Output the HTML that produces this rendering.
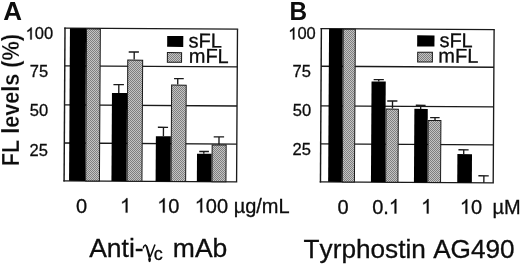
<!DOCTYPE html>
<html><head><meta charset="utf-8">
<style>
html,body{margin:0;padding:0;background:#fff;width:520px;height:265px;overflow:hidden}
svg{display:block;filter:grayscale(1)}
text{font-kerning:none;font-family:"Liberation Sans",sans-serif;fill:#0d0d0d;stroke:#0d0d0d;stroke-width:0.3px}
path.o{fill:#0d0d0d;stroke:#0d0d0d;stroke-width:0.3px;vector-effect:non-scaling-stroke}
g.ln path{fill:none}
</style></head><body>
<svg width="520" height="265" viewBox="0 0 520 265">
<defs>
<pattern id="ck" x="0" y="0" width="2" height="2" patternUnits="userSpaceOnUse" patternTransform="rotate(-0.34 150 105)">
<!--A-->
<rect width="2" height="2" fill="#c4c4c4"/>
<rect width="1" height="1" fill="#7f7f7f"/>
<rect x="1" y="1" width="1" height="1" fill="#7f7f7f"/>
</pattern>
<pattern id="ckB" x="0" y="0" width="2" height="2" patternUnits="userSpaceOnUse" patternTransform="rotate(-0.34 407 105)">
<rect width="2" height="2" fill="#c4c4c4"/>
<rect width="1" height="1" fill="#7f7f7f"/>
<rect x="1" y="1" width="1" height="1" fill="#7f7f7f"/>
</pattern>
</defs>
<!-- Panel A -->
<text x="3.15" y="20" font-size="26" font-weight="bold" style="stroke:none">A</text>
<text transform="translate(18.5,166.2) rotate(-90)" font-size="23" font-weight="bold" style="stroke:#fff;stroke-width:0.2px" textLength="132.2" lengthAdjust="spacingAndGlyphs">FL levels (%)</text>
<path class="o" transform="translate(25.60,39.40) scale(0.008057,-0.008057)" d="M763,0H583V1147Q518,1085 412,1023Q307,961 223,930V1104Q374,1175 487,1276Q600,1377 647,1472H763Z"/>
<text x="34.78" y="39.40" font-size="16.5">00</text>
<text x="29.75" y="77.10" font-size="16.5">75</text>
<text x="29.74" y="116.20" font-size="16.5">50</text>
<text x="29.57" y="155.60" font-size="16.5">25</text>
<g transform="rotate(0.34 150 105)">
<g class="ln" stroke="#1a1a1a" fill="none">
<path d="M64.55 28.00V182.03" stroke-width="1.45"/>
<path d="M63.75 28.70H237.74" stroke-width="1.2"/>
<path d="M237.04 28.70V182.03M63.75 181.33H237.74" stroke-width="1.35"/>
<path d="M64.55 66.33H237.04" stroke-width="1.3"/>
<path d="M64.55 105.47H237.04" stroke-width="1.3"/>
<path d="M64.55 143.52H237.04" stroke-width="1.3"/>
</g>
<rect x="69.50" y="28.70" width="16.10" height="152.63" fill="#000"/>
<rect x="86.10" y="29.20" width="13.80" height="152.13" fill="url(#ck)" stroke="#1a1a1a" stroke-width="1"/>
<rect x="111.90" y="93.24" width="15.10" height="88.09" fill="#000"/>
<rect x="127.50" y="60.19" width="14.90" height="121.14" fill="url(#ck)" stroke="#1a1a1a" stroke-width="1"/>
<rect x="156.05" y="136.12" width="14.95" height="45.21" fill="#000"/>
<rect x="171.50" y="84.93" width="14.60" height="96.40" fill="url(#ck)" stroke="#1a1a1a" stroke-width="1"/>
<rect x="197.30" y="153.38" width="14.60" height="27.95" fill="#000"/>
<rect x="212.40" y="144.59" width="14.00" height="36.74" fill="url(#ck)" stroke="#1a1a1a" stroke-width="1"/>
<g class="ln" stroke="#1a1a1a" stroke-width="1.35" fill="none">
<path d="M113.30 84.78H123.80M118.70 84.78V93.24"/>
<path d="M128.40 52.10H138.60M133.90 52.10V59.69"/>
<path d="M158.00 127.22H168.20M163.60 127.22V136.12"/>
<path d="M173.90 78.44H183.60M177.60 78.44V84.43"/>
<path d="M199.50 151.18H209.20M204.10 151.18V153.38"/>
<path d="M213.90 136.49H224.30M219.20 136.49V144.09"/>
</g>
<rect x="166.80" y="35.85" width="16.10" height="10.90" fill="#000"/>
<rect x="167.10" y="52.50" width="14.20" height="9.60" fill="url(#ck)" stroke="#1a1a1a" stroke-width="1"/>
<text x="188.24" y="47.20" font-size="20">sFL</text>
<text x="188.47" y="62.50" font-size="20">mFL</text>
</g>
<text x="76.12" y="212.60" font-size="20">0</text>
<path class="o" transform="translate(120.02,212.60) scale(0.009766,-0.009766)" d="M763,0H583V1147Q518,1085 412,1023Q307,961 223,930V1104Q374,1175 487,1276Q600,1377 647,1472H763Z"/>
<path class="o" transform="translate(157.22,212.60) scale(0.009766,-0.009766)" d="M763,0H583V1147Q518,1085 412,1023Q307,961 223,930V1104Q374,1175 487,1276Q600,1377 647,1472H763Z"/>
<text x="168.35" y="212.60" font-size="20">0</text>
<path class="o" transform="translate(194.72,212.60) scale(0.009766,-0.009766)" d="M763,0H583V1147Q518,1085 412,1023Q307,961 223,930V1104Q374,1175 487,1276Q600,1377 647,1472H763Z"/>
<text x="205.85" y="212.60" font-size="20">00 µg/mL</text>
<text x="89.15" y="257.20" font-size="26.5">Anti-</text>
<path d="M143.2 248.3C143.6 246.2 144.6 245 145.8 245.2" fill="none" stroke="#0d0d0d" stroke-width="1.3"/>
<path d="M145.0 244.5C146.4 244.4 147.3 245.4 147.7 246.8L150.9 257.3L148.5 257.7L146.0 247.8C145.7 246.6 145.4 246.0 144.9 245.9Z" fill="#0d0d0d"/>
<path d="M155.0 244.5L150.2 257" fill="none" stroke="#0d0d0d" stroke-width="1.5"/>
<ellipse cx="149.6" cy="259.6" rx="1.35" ry="2.6" fill="#0d0d0d"/>
<text x="153.84" y="260.20" font-size="18">c</text>
<text x="172.84" y="257.20" font-size="26.5">mAb</text>
<text transform="translate(289.5,19.8) scale(0.945,1)" font-size="25.8" font-weight="bold" style="stroke:none">B</text>
<path class="o" transform="translate(288.20,39.40) scale(0.008057,-0.008057)" d="M763,0H583V1147Q518,1085 412,1023Q307,961 223,930V1104Q374,1175 487,1276Q600,1377 647,1472H763Z"/>
<text x="297.38" y="39.40" font-size="16.5">00</text>
<text x="292.55" y="77.00" font-size="16.5">75</text>
<text x="292.74" y="115.80" font-size="16.5">50</text>
<text x="292.57" y="154.60" font-size="16.5">25</text>
<g transform="rotate(0.34 407 105)">
<g class="ln" stroke="#1a1a1a" fill="none">
<path d="M320.92 28.45V183.03" stroke-width="1.45"/>
<path d="M320.12 29.15H494.36" stroke-width="1.2"/>
<path d="M493.66 29.15V183.03M320.12 182.33H494.36" stroke-width="1.35"/>
<path d="M320.92 66.75H493.66" stroke-width="1.3"/>
<path d="M320.92 106.33H493.66" stroke-width="1.3"/>
<path d="M320.92 144.33H493.66" stroke-width="1.3"/>
</g>
<rect x="328.60" y="29.15" width="13.70" height="153.18" fill="#000"/>
<rect x="342.80" y="29.65" width="12.10" height="152.68" fill="url(#ckB)" stroke="#1a1a1a" stroke-width="1"/>
<rect x="371.40" y="81.67" width="14.20" height="100.66" fill="#000"/>
<rect x="386.10" y="109.19" width="12.30" height="73.14" fill="url(#ckB)" stroke="#1a1a1a" stroke-width="1"/>
<rect x="414.40" y="108.82" width="13.40" height="73.51" fill="#000"/>
<rect x="428.30" y="120.34" width="12.70" height="61.99" fill="url(#ckB)" stroke="#1a1a1a" stroke-width="1"/>
<rect x="457.70" y="153.76" width="14.60" height="28.57" fill="#000"/>
<g class="ln" stroke="#1a1a1a" stroke-width="1.35" fill="none">
<path d="M373.50 79.77H383.70M378.60 79.77V81.67"/>
<path d="M387.20 101.09H397.40M392.50 101.09V108.69"/>
<path d="M415.80 105.22H425.60M420.70 105.22V108.82"/>
<path d="M430.20 117.44H439.70M435.10 117.44V119.84"/>
<path d="M458.70 149.46H468.90M464.00 149.46V153.76"/>
<path d="M478.80 175.34H489.20M484.30 175.34V182.33"/>
</g>
<rect x="416.80" y="35.30" width="17.30" height="11.10" fill="#000"/>
<rect x="417.40" y="52.10" width="14.70" height="9.80" fill="url(#ckB)" stroke="#1a1a1a" stroke-width="1"/>
<text x="439.04" y="46.90" font-size="20">sFL</text>
<text x="438.07" y="62.40" font-size="20">mFL</text>
</g>
<text x="337.52" y="213.50" font-size="20">0</text>
<text x="372.22" y="213.50" font-size="20">0.</text>
<path class="o" transform="translate(388.90,213.50) scale(0.009766,-0.009766)" d="M763,0H583V1147Q518,1085 412,1023Q307,961 223,930V1104Q374,1175 487,1276Q600,1377 647,1472H763Z"/>
<path class="o" transform="translate(421.12,213.50) scale(0.009766,-0.009766)" d="M763,0H583V1147Q518,1085 412,1023Q307,961 223,930V1104Q374,1175 487,1276Q600,1377 647,1472H763Z"/>
<path class="o" transform="translate(459.82,213.70) scale(0.009766,-0.009766)" d="M763,0H583V1147Q518,1085 412,1023Q307,961 223,930V1104Q374,1175 487,1276Q600,1377 647,1472H763Z"/>
<text x="470.95" y="213.70" font-size="20">0</text>
<text x="492.43" y="213.70" font-size="20">µM</text>
<text x="303.61" y="257.60" font-size="26.2">Tyrphostin AG490</text>
</svg>
</body></html>
